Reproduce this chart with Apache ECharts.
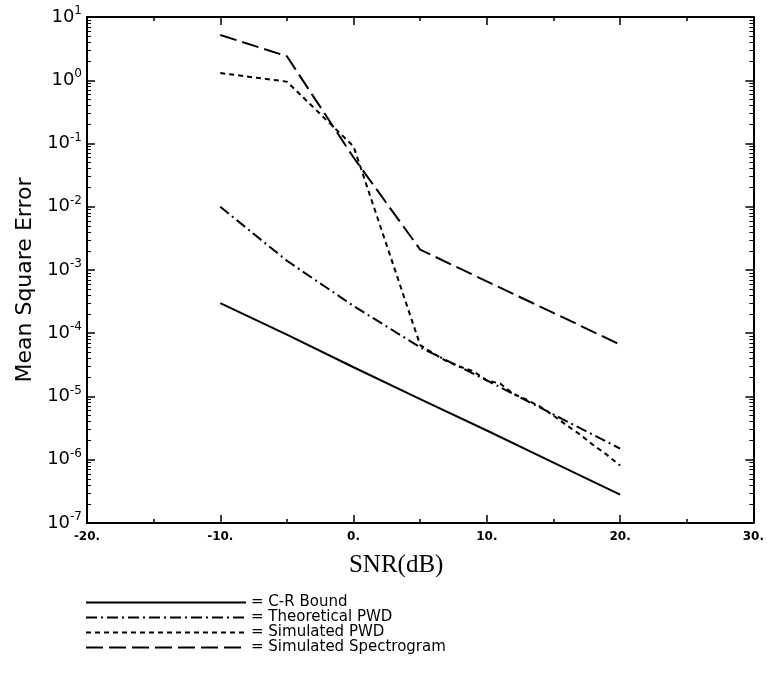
<!DOCTYPE html>
<html><head><meta charset="utf-8">
<script src="https://cdn.jsdelivr.net/npm/echarts@6/dist/echarts.min.js"></script>
<style>html,body{margin:0;padding:0;background:#fff}#c{width:767px;height:673px}</style>
</head><body><div id="c"></div>
<script>
// SNR (dB) sample points
const snr = [-10, -5, 0, 5, 10, 15, 20];
const crBound = [3.0e-4, 9.5e-5, 2.9e-5, 9.1e-6, 2.9e-6, 9.0e-7, 2.8e-7];
const theoPWD = [1.0e-2, 1.4e-3, 2.7e-4, 6.0e-5, 1.8e-5, 5.2e-6, 1.5e-6];
const simPwdSnr = [-10, -5, 0, 5, 6, 7, 8, 9, 10, 11, 12, 13, 14, 15, 16, 17, 18, 19, 20];
const simPWD = [1.3, 0.95, 9.0e-2, 6.5e-5, 4.8e-5, 3.6e-5, 2.95e-5, 2.5e-5, 1.8e-5, 1.6e-5, 1.1e-5, 8.9e-6, 6.9e-6, 5.0e-6, 3.5e-6, 2.5e-6, 1.7e-6, 1.2e-6, 8.1e-7];
const spectro = [5.2, 2.4, 6.0e-2, 2.1e-3, 6.6e-4, 2.1e-4, 6.6e-5];
const seriesNames = ['C-R Bound', 'Theoretical PWD', 'Simulated PWD', 'Simulated Spectrogram'];
const xMin = -20, xMax = 30, xStep = 10;
const yMin = 1e-7, yMax = 10;

const chart = echarts.init(document.getElementById('c'), null, {renderer: 'canvas'});
const black = '#000';
const axLine = {show: true, onZero: false, lineStyle: {color: black, width: 2}};
const xCommon = {
  type: 'value', min: xMin, max: xMax, interval: xStep,
  axisLine: axLine,
  axisTick: {show: true, inside: true, length: 8, lineStyle: {color: black, width: 1.5}},
  minorTick: {show: true, splitNumber: 2, length: 4, lineStyle: {color: black, width: 1.5}},
  splitLine: {show: false}
};
const yCommon = {
  type: 'log', logBase: 10, min: yMin, max: yMax, splitNumber: 8,
  axisLine: axLine,
  axisTick: {show: true, inside: true, length: 8, lineStyle: {color: black, width: 1.5}},
  minorTick: {show: true, splitNumber: 9, length: 4, lineStyle: {color: black, width: 1}},
  splitLine: {show: false}
};
const lw = 2;
const option = {
  backgroundColor: '#fff',
  animation: false,
  grid: {left: 87, right: 10, top: 17, bottom: 150, containLabel: false},
  xAxis: [
    Object.assign({}, xCommon, {
      position: 'bottom',
      name: 'SNR(dB)', nameLocation: 'middle', nameGap: 30,
      nameTextStyle: {fontFamily: 'Liberation Serif', fontSize: 25, color: black, padding: [0, 48, 0, 0]},
      axisLabel: {show: true, margin: 8, color: black, fontFamily: 'DejaVu Sans', fontWeight: 'bold', fontSize: 12,
        showMinLabel: true, showMaxLabel: true, formatter: v => v + '.'}
    }),
    Object.assign({}, xCommon, {position: 'top', axisLabel: {show: false}})
  ],
  yAxis: [
    Object.assign({}, yCommon, {
      position: 'left',
      name: 'Mean Square Error', nameLocation: 'middle', nameGap: 48,
      nameTextStyle: {fontFamily: 'DejaVu Sans', fontSize: 22, color: black, padding: [0, 20, 0, 0]},
      axisLabel: {show: true, margin: 5, color: black,
        formatter: v => '{b|10}{s|' + Math.round(Math.log10(v)) + '}',
        rich: {
          b: {fontFamily: 'DejaVu Sans', fontSize: 18, lineHeight: 24, color: black},
          s: {fontFamily: 'DejaVu Sans', fontSize: 12, lineHeight: 12, verticalAlign: 'top', color: black}
        }}
    }),
    Object.assign({}, yCommon, {position: 'right', axisLabel: {show: false}})
  ],
  legend: {
    orient: 'vertical', left: 80, top: 590,
    itemWidth: 160, itemHeight: 10, itemGap: 0,
    data: seriesNames,
    formatter: n => '= ' + n,
    itemStyle: {opacity: 0},
    textStyle: {fontFamily: 'DejaVu Sans', fontSize: 15, lineHeight: 15, color: black}
  },
  series: [
    {name: seriesNames[0], type: 'line', symbol: 'none', xAxisIndex: 0, yAxisIndex: 0,
     data: snr.map((x, i) => [x, crBound[i]]),
     lineStyle: {color: black, width: lw, type: 'solid'}, itemStyle: {color: black}},
    {name: seriesNames[1], type: 'line', symbol: 'none', xAxisIndex: 0, yAxisIndex: 0,
     data: snr.map((x, i) => [x, theoPWD[i]]),
     lineStyle: {color: black, width: lw, type: [11, 4, 2, 4]}, itemStyle: {color: black}},
    {name: seriesNames[2], type: 'line', symbol: 'none', xAxisIndex: 0, yAxisIndex: 0,
     data: simPwdSnr.map((x, i) => [x, simPWD[i]]),
     lineStyle: {color: black, width: lw, type: [5, 4]}, itemStyle: {color: black}},
    {name: seriesNames[3], type: 'line', symbol: 'none', xAxisIndex: 0, yAxisIndex: 0,
     data: snr.map((x, i) => [x, spectro[i]]),
     lineStyle: {color: black, width: lw, type: [17, 6]}, itemStyle: {color: black}}
  ]
};
chart.setOption(option);
</script>
</body></html>
